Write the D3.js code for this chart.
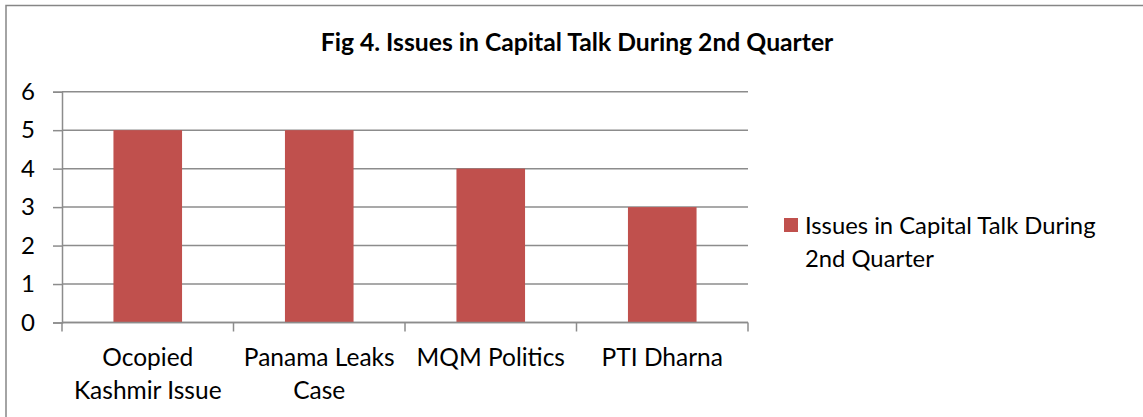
<!DOCTYPE html>
<html>
<head>
<meta charset="utf-8">
<script src="https://cdn.jsdelivr.net/npm/d3@7"></script>
<style>
  html, body { margin: 0; padding: 0; background: #fff; }
  svg { display: block; font-family: Lato, "Open Sans", sans-serif; }
</style>
</head>
<body>
<svg id="chart" width="1143" height="417"></svg>
<script>
const categories = [["Ocopied", "Kashmir Issue"], ["Panama Leaks", "Case"], ["MQM Politics"], ["PTI Dharna"]];
const values = [5, 5, 4, 3];
const yTicks = [0, 1, 2, 3, 4, 5, 6];
const seriesName = ["Issues in Capital Talk During", "2nd Quarter"];
const title = "Fig 4. Issues in Capital Talk During 2nd Quarter";

const svg = d3.select("#chart");
const barColor = "#C0504D";
const gridColor = "#8C8C8C";

// chart border (right/bottom off-canvas)
svg.append("rect").attr("x", 6).attr("y", 5.5).attr("width", 1160).attr("height", 430)
  .attr("fill", "none").attr("stroke", "#868686").attr("stroke-width", 1.5);

const plot = { left: 62, right: 748, top: 91.7, bottom: 322.5 };
const keys = categories.map((c, i) => i);

const x = d3.scaleBand().domain(keys).range([plot.left, plot.right]).paddingInner(0.6).paddingOuter(0.3);
const xCat = d3.scaleBand().domain(keys).range([plot.left, plot.right]).padding(0);
const y = d3.scaleLinear().domain([0, 6]).range([plot.bottom, plot.top]);

svg.append("text").attr("x", 577).attr("y", 51).attr("text-anchor", "middle")
  .attr("font-weight", "bold").attr("font-size", 24.7).attr("fill", "#000").text(title);

// gridlines
svg.append("g").selectAll("line").data(yTicks).join("line")
  .attr("x1", plot.left).attr("x2", plot.right)
  .attr("y1", d => y(d)).attr("y2", d => y(d))
  .attr("stroke", gridColor).attr("stroke-width", 1.5);

// y axis
const yAxis = svg.append("g").attr("transform", `translate(${plot.left},0)`)
  .call(d3.axisLeft(y).tickValues(yTicks).tickSize(9).tickPadding(18).tickFormat(d3.format("d")));
yAxis.select(".domain").attr("stroke", gridColor).attr("stroke-width", 1.5);
yAxis.selectAll(".tick line").attr("stroke", gridColor).attr("stroke-width", 1.5);
yAxis.selectAll(".tick text").attr("font-size", 24).attr("fill", "#000").attr("font-family", "Lato, sans-serif");

// bars
svg.append("g").selectAll("rect").data(values).join("rect")
  .attr("x", (d, i) => x(i)).attr("width", x.bandwidth())
  .attr("y", d => y(d)).attr("height", d => y(0) - y(d))
  .attr("fill", barColor);

// x axis
const xAxisG = svg.append("g").attr("transform", `translate(0,${plot.bottom})`);
xAxisG.append("line").attr("x1", plot.left).attr("x2", plot.right).attr("y1", 0).attr("y2", 0)
  .attr("stroke", gridColor).attr("stroke-width", 1.5);
const boundaries = keys.map(k => xCat(k)).concat([xCat(keys[keys.length - 1]) + xCat.bandwidth()]);
xAxisG.selectAll("line.tk").data(boundaries).join("line").attr("class", "tk")
  .attr("x1", d => d).attr("x2", d => d).attr("y1", 0).attr("y2", 9)
  .attr("stroke", gridColor).attr("stroke-width", 1.5);
const labels = xAxisG.selectAll("text").data(categories).join("text")
  .attr("text-anchor", "middle").attr("font-size", 24.5).attr("fill", "#000");
labels.each(function(lines, i) {
  const t = d3.select(this);
  lines.forEach((ln, j) => {
    t.append("tspan").attr("x", xCat(i) + xCat.bandwidth() / 2).attr("y", 43 + j * 33).text(ln);
  });
});

// legend
svg.append("rect").attr("x", 784).attr("y", 218).attr("width", 14).attr("height", 14).attr("fill", barColor);
const lt = svg.append("text").attr("font-size", 23.8).attr("fill", "#000");
seriesName.forEach((ln, j) => lt.append("tspan").attr("x", 805).attr("y", 233.5 + j * 33).text(ln));
</script>
</body>
</html>
